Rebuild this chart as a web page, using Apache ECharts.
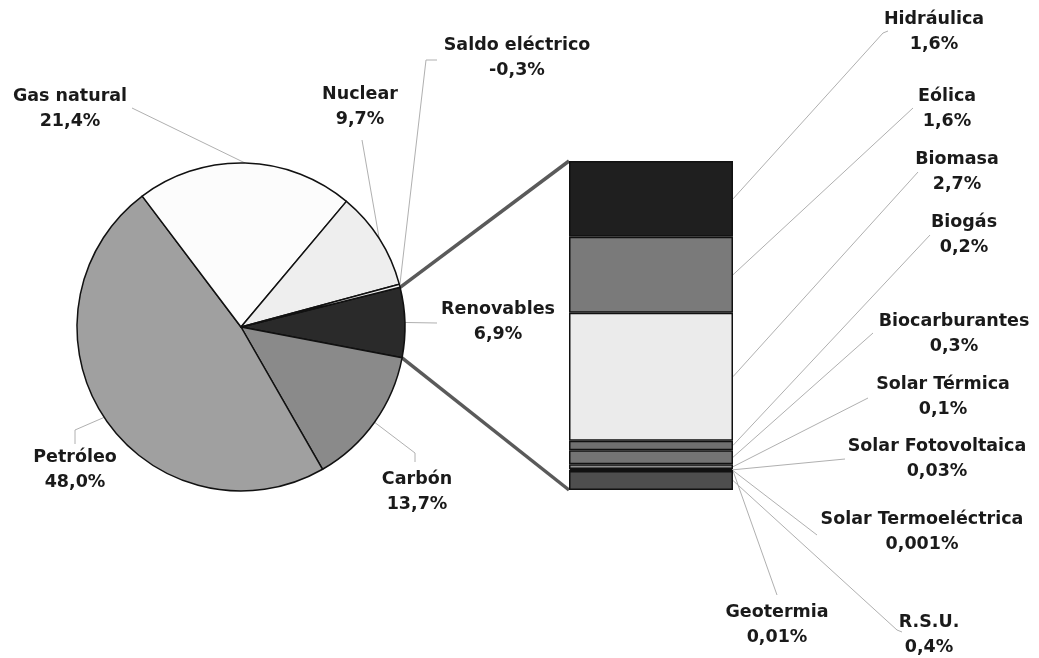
<!DOCTYPE html>
<html>
<head>
<meta charset="utf-8">
<script src="https://cdn.jsdelivr.net/npm/echarts@6/dist/echarts.min.js"></script>
<style>
  html, body { margin: 0; padding: 0; background: #ffffff; }
  #chart { width: 1039px; height: 658px; }
</style>
</head>
<body>
<div id="chart"></div>
<script>
// ---------- DATA ----------
const pieNames = ['Renovables', 'Carbón', 'Petróleo', 'Gas natural', 'Nuclear', 'Saldo eléctrico'];
const pieValues = [6.9, 13.7, 48.0, 21.4, 9.7, -0.3];

const renNames = ['Hidráulica', 'Eólica', 'Biomasa', 'Biogás', 'Biocarburantes', 'Solar Térmica',
                  'Solar Fotovoltaica', 'Solar Termoeléctrica', 'Geotermia', 'R.S.U.'];
const renValues = [1.6, 1.6, 2.7, 0.2, 0.3, 0.1, 0.03, 0.001, 0.01, 0.4];

// ---------- STYLE / LAYOUT ----------
const pieColors = ['#2a2a2a', '#8a8a8a', '#a0a0a0', '#fcfcfc', '#eeeeee', '#f4f4f4'];
const renColors = ['#1f1f1f', '#7a7a7a', '#ebebeb', '#707070', '#747474', '#8e8e8e',
                   '#555555', '#555555', '#555555', '#4e4e4e'];

// label centre and guide-line points after the start point (pixels)
const pieLabelLayout = [
  { pos: [498, 322], pts: [[437, 323]] },             // Renovables
  { pos: [417, 492], pts: [[415, 453], [415, 462]] }, // Carbón
  { pos: [75, 470],  pts: [[75, 430], [75, 444]] },   // Petróleo
  { pos: [70, 109],  pts: [[132, 108]] },             // Gas natural
  { pos: [360, 107], pts: [[362, 140]] },             // Nuclear
  { pos: [517, 58],  pts: [[426, 60], [437, 60]] }    // Saldo
];
const renLabelLayout = [
  { pos: [934, 32],  pts: [[883, 33], [888, 31]] },
  { pos: [947, 109], pts: [[913, 108]] },
  { pos: [957, 172], pts: [[918, 172]] },
  { pos: [964, 235], pts: [[930, 235]] },
  { pos: [954, 334], pts: [[873, 333]] },
  { pos: [943, 397], pts: [[868, 398]] },
  { pos: [937, 459], pts: [[845, 459]] },
  { pos: [922, 532], pts: [[817, 535]] },
  { pos: [777, 625], pts: [[777, 595]] },
  { pos: [929, 635], pts: [[897, 630], [902, 632]] }
];

function fmt(v) {
  let s = String(v);
  if (s.indexOf('.') < 0) s = v.toFixed(1);
  return s.replace('.', ',') + '%';
}

const labelText = {
  fontFamily: 'DejaVu Sans',
  fontWeight: 'bold',
  fontSize: 17.5,
  lineHeight: 25,
  color: '#1a1a1a'
};
const guideStyle = { stroke: '#b0b0b0', lineWidth: 1 };

const chart = echarts.init(document.getElementById('chart'), null, { renderer: 'canvas' });

const pieData = pieNames.map((n, i) => ({
  name: n,
  value: Math.abs(pieValues[i]),
  itemStyle: { color: pieColors[i] },
  label: { formatter: n + '\n' + fmt(pieValues[i]) }
}));

const barSeries = renNames.map((n, i) => ({
  type: 'bar',
  name: n,
  stack: 'ren',
  barWidth: '100%',
  data: [renValues[i]],
  itemStyle: { color: renColors[i], borderColor: '#111', borderWidth: 1.5 },
  label: Object.assign({ show: true, position: 'right', formatter: n + '\n' + fmt(renValues[i]) }, labelText),
  labelLayout: function () {
    const L = renLabelLayout[i];
    return { x: L.pos[0], y: L.pos[1], align: 'center', verticalAlign: 'middle' };
  },
  emphasis: { disabled: true },
  animation: false
}));

const renTotal = renValues.reduce((a, b) => a + b, 0);

chart.setOption({
  backgroundColor: '#ffffff',
  animation: false,
  grid: { left: 569, top: 161, width: 164, height: 329 },
  xAxis: { type: 'category', data: ['Renovables'], show: false },
  yAxis: { type: 'value', inverse: true, min: 0, max: renTotal, show: false },
  series: [
    {
      type: 'pie',
      center: [241, 327],
      radius: 164,
      startAngle: 14,
      clockwise: true,
      avoidLabelOverlap: false,
      data: pieData,
      itemStyle: { borderColor: '#111', borderWidth: 1.5 },
      label: Object.assign({ show: true, position: 'outside', alignTo: 'none' }, labelText),
      labelLine: { show: true, length: 10, length2: 10, lineStyle: { color: '#b0b0b0', width: 1 } },
      labelLayout: function (p) {
        const L = pieLabelLayout[p.dataIndex];
        const start = p.labelLinePoints ? p.labelLinePoints[0] : L.pts[0];
        return {
          x: L.pos[0], y: L.pos[1], align: 'center', verticalAlign: 'middle',
          labelLinePoints: [start].concat(L.pts)
        };
      },
      emphasis: { disabled: true },
      animation: false
    }
  ].concat(barSeries)
});

// connector lines from the Renovables slice to the stacked bar, and bar guide lines
function drawConnectors() {
  const model = chart.getModel();
  const lay = model.getSeriesByIndex(0).getData().getItemLayout(0);
  const topBar = model.getSeriesByIndex(1).getData().getItemLayout(0);
  const botBar = model.getSeriesByIndex(renNames.length).getData().getItemLayout(0);
  const a0 = Math.min(lay.startAngle, lay.endAngle);
  const a1 = Math.max(lay.startAngle, lay.endAngle);
  const p0 = [lay.cx + lay.r * Math.cos(a0), lay.cy + lay.r * Math.sin(a0)];
  const p1 = [lay.cx + lay.r * Math.cos(a1), lay.cy + lay.r * Math.sin(a1)];
  const barTop = Math.min(topBar.y, topBar.y + topBar.height);
  const barBot = Math.max(botBar.y, botBar.y + botBar.height);
  const barLeft = Math.min(topBar.x, topBar.x + topBar.width);
  const up = p0[1] < p1[1] ? p0 : p1;
  const dn = p0[1] < p1[1] ? p1 : p0;
  const graphics = [
    { type: 'line', z: 1, shape: { x1: up[0], y1: up[1], x2: barLeft, y2: barTop },
      style: { stroke: '#5a5a5a', lineWidth: 3.5 } },
    { type: 'line', z: 1, shape: { x1: dn[0], y1: dn[1], x2: barLeft, y2: barBot },
      style: { stroke: '#5a5a5a', lineWidth: 3.5 } }
  ];
  renNames.forEach((n, i) => {
    const b = model.getSeriesByIndex(i + 1).getData().getItemLayout(0);
    const right = Math.max(b.x, b.x + b.width);
    const midY = b.y + b.height / 2;
    graphics.push({
      type: 'polyline', z: 0, silent: true,
      shape: { points: [[right, midY]].concat(renLabelLayout[i].pts) },
      style: Object.assign({ fill: null }, guideStyle)
    });
  });
  chart.setOption({ graphic: graphics });
}
drawConnectors();
</script>
</body>
</html>
